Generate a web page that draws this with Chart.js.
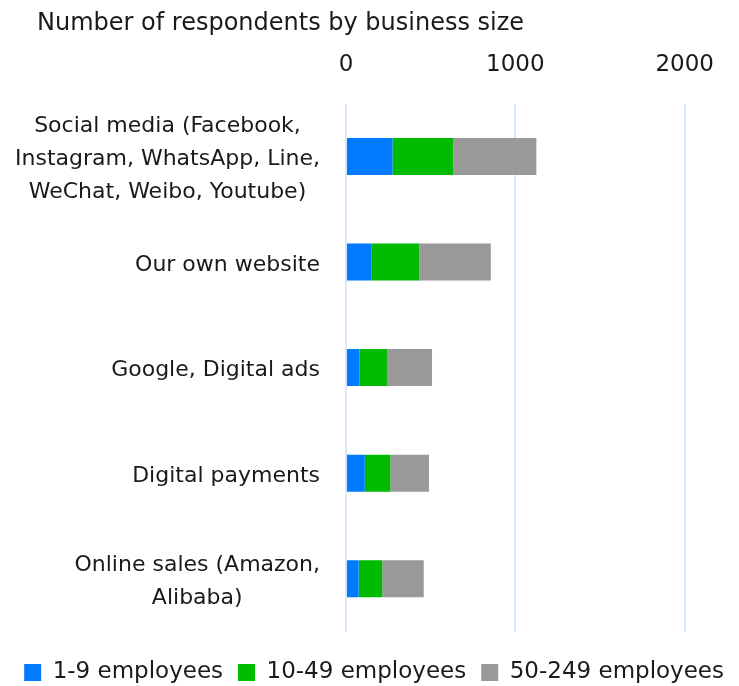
<!DOCTYPE html>
<html lang="en">
<head>
  <meta charset="UTF-8">
  <title>Number of respondents by business size</title>
  <script src="https://cdn.jsdelivr.net/npm/chart.js"></script>
  <style>
    body {
      margin: 0;
      font-family: "DejaVu Sans", sans-serif;
      background: #fff;
    }
    #wrap {
      position: relative;
      width: 739px;
      height: 686px;
    }
    #title {
      position: absolute;
      left: 37px;
      top: 8px;
      font-size: 24px;
      color: #1a1a1a;
    }
  </style>
</head>
<body>
  <div id="wrap">
    <div id="title">Number of respondents by business size</div>
    <canvas id="chart"></canvas>
  </div>

  <script>
    const categories = [
      ['Social media (Facebook,', 'Instagram, WhatsApp, Line,', 'WeChat, Weibo, Youtube)'],
      'Our own website',
      'Google, Digital ads',
      'Digital payments',
      ['Online sales (Amazon,', 'Alibaba)']
    ];
    const seriesNames = ['1-9 employees', '10-49 employees', '50-249 employees'];
    const micro = [275, 152, 79, 111, 75];
    const small = [359, 281, 163, 151, 139];
    const medium = [490, 422, 266, 228, 245];
    const xTicks = [0, 1000, 2000];
    const xMax = 2259;

    const colors = ['#007bff', '#00bb00', '#999999'];
    const fontFamily = '"DejaVu Sans", sans-serif';
    const labelFont = { family: fontFamily, size: 22, lineHeight: 1.5 };
    const labelGap = 26;

    const linesOf = lab => (Array.isArray(lab) ? lab : [lab]);

    // y labels: each block is right-aligned to the axis, lines centred inside the block
    const blockLabels = {
      id: 'blockLabels',
      afterDraw(chart) {
        const scale = chart.scales.y;
        const ctx = chart.ctx;
        const lh = labelFont.size * labelFont.lineHeight;
        ctx.save();
        ctx.font = labelFont.size + 'px ' + labelFont.family;
        ctx.fillStyle = '#1a1a1a';
        ctx.textAlign = 'center';
        ctx.textBaseline = 'middle';
        categories.forEach((lab, i) => {
          const lines = linesOf(lab);
          const w = Math.max(...lines.map(l => ctx.measureText(l).width));
          const cx = scale.right - labelGap - w / 2;
          const cy = scale.getPixelForValue(i) + 3;
          lines.forEach((l, j) => {
            ctx.fillText(l, cx, cy + (j - (lines.length - 1) / 2) * lh);
          });
        });
        ctx.restore();
      }
    };

    new Chart(document.getElementById('chart'), {
      type: 'bar',
      data: {
        labels: categories,
        datasets: [
          { label: seriesNames[0], data: micro, backgroundColor: colors[0] },
          { label: seriesNames[1], data: small, backgroundColor: colors[1] },
          { label: seriesNames[2], data: medium, backgroundColor: colors[2] }
        ]
      },
      options: {
        indexAxis: 'y',
        responsive: true,
        maintainAspectRatio: false,
        animation: false,
        layout: { padding: { top: 26, right: 0, bottom: -8, left: 0 } },
        datasets: {
          bar: { categoryPercentage: 1, barPercentage: 0.35 }
        },
        scales: {
          x: {
            position: 'top',
            stacked: true,
            min: 0,
            max: xMax,
            afterBuildTicks: axis => { axis.ticks = xTicks.map(v => ({ value: v })); },
            ticks: {
              color: '#1a1a1a',
              font: { family: fontFamily, size: 23 },
              padding: 25,
              callback: v => String(v)
            },
            grid: { color: '#d8e8fb', lineWidth: 2, drawTicks: false },
            border: { display: false }
          },
          y: {
            stacked: true,
            ticks: {
              // only sizes the axis; the text itself is painted by blockLabels
              color: 'transparent',
              font: labelFont,
              padding: 20.5,
              autoSkip: false,
              callback: (v, i) => linesOf(categories[i]).reduce((a, b) => (b.length > a.length ? b : a))
            },
            grid: { display: false, drawTicks: false },
            border: { display: false }
          }
        },
        plugins: {
          legend: {
            position: 'bottom',
            align: 'end',
            title: { display: true, text: '', padding: 0 },
            labels: {
              color: '#1a1a1a',
              font: { family: fontFamily, size: 23 },
              boxWidth: 17,
              boxHeight: 17,
              padding: 15
            }
          },
          tooltip: { enabled: false }
        }
      },
      plugins: [blockLabels]
    });
  </script>
</body>
</html>
